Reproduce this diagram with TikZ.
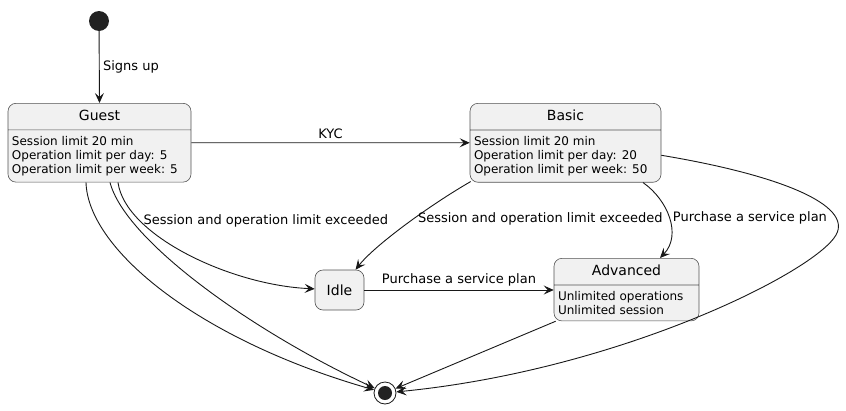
\documentclass[tikz,border=0pt]{standalone}
\usepackage{fontspec}
\setmainfont{DejaVu Sans}
\usetikzlibrary{arrows.meta,shapes.multipart}

\definecolor{statefill}{HTML}{F1F1F1}
\definecolor{stateline}{HTML}{181818}
\definecolor{dotfill}{HTML}{222222}

\newcommand{\titlefont}{\fontsize{14}{16}\selectfont}
\newcommand{\titlestrut}{\rule[-3.5pt]{0pt}{14pt}}

\begin{document}
\begin{tikzpicture}[x=1pt, y=-1pt,
    state/.style={rectangle split, rectangle split parts=2,
        rectangle split part align={center,left}, align=left,
        draw=stateline!75, fill=statefill, line width=0.6pt,
        rounded corners=8pt, inner xsep=4pt, inner ysep=6pt,
        font=\fontsize{12}{14}\selectfont},
    simple/.style={rectangle, draw=stateline!75, fill=statefill, line width=0.6pt,
        rounded corners=8pt, minimum width=49pt, minimum height=40pt,
        font=\titlefont},
    initial/.style={circle, fill=dotfill, minimum size=20pt, inner sep=0pt},
    final/.style={circle, draw=stateline, fill=white, line width=0.8pt,
        minimum size=22pt, inner sep=0pt,
        path picture={\fill[dotfill] (path picture bounding box.center) circle (7pt);}},
    edge/.style={draw=stateline, line width=0.9pt,
        -{Stealth[length=10pt, width=9pt, inset=4pt]}},
    lbl/.style={font=\fontsize{13}{15}\selectfont, text=black}
]
    \useasboundingbox (0,0) rectangle (846,410);

    % States
    \node[initial] (start) at (99,21) {};
    \node[state, minimum width=183pt, anchor=north] (guest) at (99.5,103)
        {\titlefont\titlestrut Guest
         \nodepart{two}Session limit 20 min\\Operation limit per day: 5\\Operation limit per week: 5};
    \node[state, minimum width=191pt, anchor=north] (basic) at (565.5,103)
        {\titlefont\titlestrut Basic
         \nodepart{two}Session limit 20 min\\Operation limit per day: 20\\Operation limit per week: 50};
    \node[simple] (idle) at (339.5,290) {Idle};
    \node[state, minimum width=145pt, anchor=north] (advanced) at (626.5,258)
        {\titlefont\titlestrut Advanced
         \nodepart{two}Unlimited operations\\Unlimited session};
    \node[final] (end) at (385,393) {};

    % Transitions
    \draw[edge] (start) -- (guest.north) node[lbl, midway, right] {Signs up};
    \draw[edge] (guest.east) -- (basic.west) node[lbl, midway, above] {KYC};
    \draw[edge] ([xshift=18.5pt]guest.south) .. controls (125,235) and (230,285) .. (idle)
        node[lbl, pos=0.25, anchor=west] {Session and operation limit exceeded};
    \draw[edge] ([xshift=-13.5pt]guest.south) .. controls (88,250) and (200,340) .. (end);
    \draw[edge] ([xshift=10.5pt]guest.south) .. controls (125,240) and (250,330) .. (end);
    \draw[edge] ([xshift=1pt,yshift=1pt]basic.south west) .. controls (430,205) and (375,245) .. (idle)
        node[lbl, pos=0.43, anchor=west] {Session and operation limit exceeded};
    \draw[edge] ([xshift=77.5pt]basic.south) .. controls (668,200) and (682,235) .. ([xshift=33.5pt]advanced.north)
        node[lbl, pos=0.5, anchor=west] {Purchase a service plan};
    \draw[edge] ([yshift=-12.5pt]basic.east) .. controls (780,175) and (853,205) .. (836,235)
        .. controls (815,272) and (620,370) .. (end);
    \draw[edge] (idle.east) -- (advanced.west |- idle.east)
        node[lbl, midway, above] {Purchase a service plan};
    \draw[edge] ([xshift=2pt]advanced.south west) -- (end);
\end{tikzpicture}
\end{document}
